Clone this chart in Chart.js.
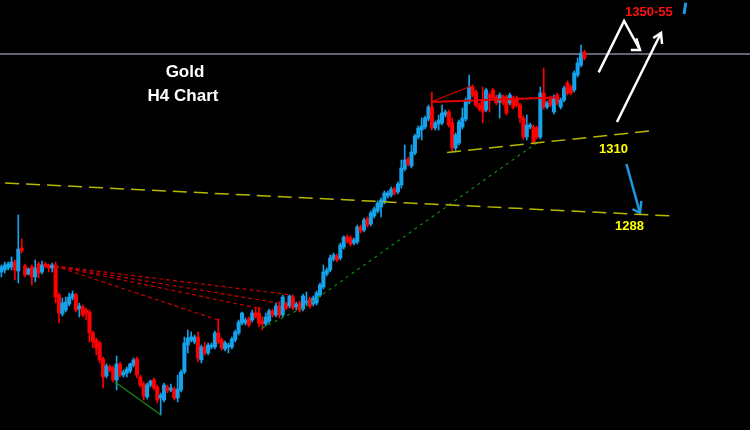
<!DOCTYPE html>
<html>
<head>
<meta charset="utf-8">
<script src="https://cdn.jsdelivr.net/npm/chart.js@4.4.1/dist/chart.umd.min.js"></script>
<style>
  html, body { margin: 0; padding: 0; background: #000; }
  #wrap { width: 750px; height: 430px; }
</style>
</head>
<body>
<div id="wrap"><canvas id="goldChart" width="750" height="430"></canvas></div>
<script>
// Gold H4 candles (oldest first)
const openPrices = [
  1275, 1275.5, 1276, 1276.25, 1277.5, 1275.25, 1281, 1276.5, 1274.5, 1276.25,
  1273.75, 1277, 1275, 1277, 1276.75, 1276, 1276.75, 1269.25, 1264.5, 1265.5,
  1267, 1268.5, 1269.25, 1265.75, 1266.25, 1265.5, 1265, 1259.75, 1258, 1257.25,
  1253.25, 1249, 1251.25, 1251, 1248, 1252, 1249.25, 1249.75, 1250.25, 1251.75,
  1253.25, 1248.75, 1247, 1243.75, 1246.75, 1248, 1246.25, 1243.5, 1243, 1246.25,
  1245.5, 1245.75, 1243.5, 1245.5, 1250, 1256.75, 1258, 1257.5, 1258.75, 1253,
  1256.25, 1254.75, 1256.25, 1256.25, 1259.75, 1258, 1255.75, 1256.25, 1256.25, 1258,
  1259.75, 1262.25, 1262.25, 1263.25, 1263, 1264.75, 1264.75, 1262.75, 1262, 1262.75,
  1265.25, 1264.25, 1266.5, 1264.25, 1267, 1266.5, 1268.75, 1266.25, 1267.25, 1265.75,
  1267.25, 1268.25, 1267, 1267.25, 1269.25, 1271.25, 1274.5, 1275.5, 1278.25, 1279,
  1278.5, 1281.25, 1283.75, 1283.5, 1282.25, 1282.5, 1286.25, 1285.5, 1288.25, 1287,
  1289, 1290.25, 1291.25, 1292.5, 1294, 1294.25, 1295.75, 1295, 1296.75, 1300.75,
  1303.25, 1301.5, 1304.75, 1308.75, 1310.5, 1311.25, 1313.25, 1316.25, 1311, 1312,
  1312.25, 1314.25, 1315, 1312.25, 1306, 1307.25, 1311.25, 1313.25, 1317.5, 1321.25,
  1320, 1316.75, 1318, 1315.5, 1319.25, 1320.5, 1318.75, 1317.5, 1318.75, 1318.75,
  1317.25, 1318.5, 1318.5, 1316.75, 1313.5, 1308.75, 1311.25, 1311.25, 1311, 1308.75,
  1319.75, 1316.25, 1318.5, 1315, 1319.25, 1316.25, 1318, 1322.25, 1321.25, 1320.5,
  1324.25, 1326.75, 1330
];
const highPrices = [
  1276.75, 1277.5, 1277.5, 1278.75, 1278, 1289.25, 1283.25, 1277, 1276, 1276.75,
  1278, 1277.5, 1277.75, 1277.5, 1277, 1277.25, 1277.5, 1269.75, 1268.5, 1268.75,
  1269.75, 1270.25, 1269.75, 1267.25, 1266.75, 1266, 1265.5, 1260.25, 1258.5, 1257.75,
  1253.75, 1252, 1251.75, 1251.5, 1254, 1252.5, 1250.5, 1251.25, 1252.25, 1253.5,
  1253.75, 1249.25, 1247.5, 1247.25, 1248, 1248.5, 1246.75, 1244.75, 1247.25, 1246.75,
  1247, 1246.25, 1249.25, 1250.5, 1258.75, 1260.5, 1260, 1259.25, 1260, 1256.75,
  1257.5, 1257.25, 1257.25, 1260.25, 1263.25, 1258.5, 1257.75, 1257.25, 1258.75, 1260.5,
  1263, 1265, 1263.5, 1263.75, 1265.5, 1266.25, 1266.25, 1263.75, 1264.75, 1265.75,
  1265.75, 1267.25, 1267.5, 1269.25, 1267.5, 1269.25, 1269.25, 1267.5, 1267.75, 1269.5,
  1270, 1268.75, 1269, 1270.25, 1272.25, 1276.75, 1276, 1279.25, 1279.75, 1279.5,
  1282.25, 1284, 1284.25, 1284, 1283.5, 1286.75, 1286.75, 1288.5, 1288.75, 1290.25,
  1291.25, 1292.75, 1293.5, 1295.25, 1295.25, 1296.25, 1296.25, 1297.5, 1303, 1306.75,
  1303.75, 1306.75, 1309.5, 1311.5, 1313.5, 1314, 1316.75, 1320, 1312.75, 1314.25,
  1316.75, 1315.5, 1315.5, 1313.5, 1309.75, 1313, 1316, 1318.5, 1324.25, 1321.75,
  1320.5, 1317.25, 1321.25, 1321, 1319.75, 1321, 1319.25, 1319.75, 1319.25, 1319.25,
  1319.75, 1319, 1319, 1317.25, 1314, 1314.25, 1312.25, 1311.75, 1311.5, 1321.25,
  1326, 1317.75, 1319, 1319.25, 1319.75, 1318.5, 1321.5, 1322.75, 1321.75, 1325.25,
  1328.5, 1331.75, 1330.5
];
const lowPrices = [
  1273.75, 1274.75, 1275.5, 1275.5, 1273, 1272.25, 1279.75, 1273.75, 1274.25, 1271.75,
  1272.5, 1273.5, 1274.5, 1276, 1275, 1275, 1267.25, 1262.25, 1264, 1265,
  1266.5, 1268, 1265, 1263.75, 1263.75, 1263, 1257.5, 1256, 1254.25, 1252.25,
  1246, 1248.5, 1250, 1247.5, 1245.5, 1248.75, 1248.75, 1248.75, 1249.75, 1251.25,
  1248.5, 1246.25, 1243, 1243.25, 1246.25, 1245.5, 1242.25, 1239.25, 1242.5, 1244.75,
  1245, 1243, 1242.5, 1245, 1249.5, 1254.75, 1257.5, 1257, 1252.5, 1252.25,
  1254.25, 1254.25, 1255.75, 1255.75, 1257, 1255.5, 1255.25, 1254.75, 1255.75, 1257.5,
  1259.25, 1261.75, 1261.75, 1261.25, 1262.5, 1263.5, 1261.25, 1260.5, 1261.5, 1262.25,
  1263.75, 1263.75, 1263.5, 1263.75, 1265.5, 1266, 1265.5, 1265.5, 1265, 1265.25,
  1266.75, 1266, 1266.5, 1266.75, 1268.75, 1270.75, 1274, 1275, 1277.75, 1277.5,
  1278, 1280.75, 1282.25, 1281.5, 1281.75, 1282, 1284.75, 1285, 1286.25, 1286.5,
  1288.5, 1289.75, 1288.75, 1292, 1293.5, 1293.75, 1294.25, 1294.5, 1296, 1300.25,
  1301.5, 1301, 1304.25, 1308.25, 1308, 1310.75, 1312.75, 1310.5, 1310.5, 1310.5,
  1311.75, 1313.75, 1311.25, 1305, 1305, 1306.75, 1310.75, 1312.75, 1317, 1318.75,
  1316.25, 1315.25, 1312.25, 1315, 1315, 1318, 1316.75, 1313.5, 1316.75, 1314.25,
  1316.75, 1315.75, 1316.25, 1312.25, 1308.25, 1308, 1310.75, 1307, 1308.25, 1308.25,
  1315.75, 1315.75, 1316.25, 1314.5, 1316.75, 1315.75, 1317.5, 1319.25, 1319.25, 1320,
  1323.75, 1326.25, 1328
];
const closePrices = [
  1276.25, 1276.75, 1277, 1277.5, 1275.5, 1280.75, 1280.25, 1274.25, 1275.75, 1273.75,
  1276, 1274.75, 1276.75, 1276.5, 1276, 1276.75, 1268.75, 1264.75, 1267.25, 1267.5,
  1268.75, 1269.5, 1265.5, 1266.5, 1264.25, 1264.75, 1259.75, 1257.5, 1256, 1253,
  1248.75, 1251.5, 1250.5, 1248, 1252, 1249.25, 1250, 1250.75, 1252, 1253,
  1249.25, 1246.75, 1244, 1246.75, 1247.75, 1246, 1243, 1244.25, 1246.75, 1245.25,
  1246, 1243.5, 1245.75, 1250, 1257.25, 1258.5, 1258.75, 1258.75, 1253.5, 1256.25,
  1254.75, 1256.75, 1256.75, 1259.75, 1257.5, 1256, 1257.25, 1256.75, 1258.25, 1260,
  1262.5, 1264.75, 1263, 1261.75, 1264.75, 1263.75, 1262.25, 1262, 1263.75, 1265.25,
  1264.25, 1266.5, 1264.25, 1268.75, 1266, 1269, 1266, 1267, 1265.5, 1269,
  1267.75, 1266.5, 1268.5, 1269.75, 1271.75, 1275, 1275.5, 1278.5, 1279.25, 1278,
  1281.75, 1283.75, 1282.75, 1282, 1283, 1286.25, 1285.25, 1288, 1286.75, 1289.75,
  1290.75, 1292.25, 1293, 1294.75, 1294.75, 1295.75, 1294.75, 1297, 1301, 1303,
  1302, 1305, 1309, 1311, 1311.5, 1313.5, 1316.25, 1311, 1312.25, 1313,
  1314.75, 1315, 1311.75, 1306, 1309.25, 1312.5, 1313.5, 1318, 1321.25, 1319.25,
  1316.75, 1315.75, 1315, 1320.5, 1318.5, 1318.5, 1317.25, 1319.25, 1317.25, 1314.75,
  1319.25, 1316.25, 1316.75, 1313.5, 1308.75, 1311.75, 1311.75, 1307.5, 1308.75, 1319.75,
  1316.25, 1317.25, 1316.75, 1318.75, 1317.25, 1318, 1321, 1319.75, 1319.75, 1324.75,
  1327.25, 1329.75, 1328.5
];

// drawn objects, points as [candle index, price]
const resistanceLine = [[-1, 1329.5], [222, 1329.5]];
const supportLong = [[1.1, 1297.25], [197.8, 1289]];
const supportShort = [[131.5, 1304.9], [192.8, 1310.4]];
const fanLines = [
  [[15.8, 1276.5], [85.7, 1269.25]],
  [[15.8, 1276.5], [81.6, 1267.25]],
  [[15.8, 1276.5], [76.9, 1265.75]],
  [[15.8, 1276.5], [63.9, 1263]]
];
const riseTrend = [[76.9, 1261], [89.9, 1266.5], [158.3, 1307.5]];
const dropTrend = [[33.5, 1247.5], [47.1, 1239.25]];
const triangleTop = [[126.7, 1317.5], [139.4, 1321.75]];
const rangeLine = [[126.7, 1317.5], [163.6, 1318.6]];
const pathUpDown = [[176.2, 1324.9], [183.7, 1337.75], [188.4, 1330.5]];
const pathUpDownHead = [[187.3, 1333.4], [188.4, 1330.5], [185.7, 1330.5]];
const pathUp = [[181.6, 1312.5], [194.6, 1334.75]];
const pathUpHead = [[192.3, 1333.5], [194.6, 1334.75], [194.9, 1332]];
const pathDown = [[184.4, 1302], [188.4, 1289.75]];
const pathDownHead = [[186.2, 1290.75], [188.4, 1289.75], [188.8, 1292.75]];
const markerArrow = [[201.4, 1339.5], [201.9, 1342.3]];

const titleLines = ['Gold', 'H4 Chart'];
const targetLabel = '1350-55';
const levelLabels = ['1310', '1288'];

const UP = '#16a2ea';
const DOWN = '#ff0000';
const candleColor = ctx => {
  const i = ctx.dataIndex;
  return closePrices[i] >= openPrices[i] ? UP : DOWN;
};

const wicks = highPrices.map((h, i) => ({ x: i, y: [lowPrices[i], h] }));
const bodies = openPrices.map((o, i) => ({ x: i, y: [o, closePrices[i]] }));

const line = (pts, color, width, dash, order) => ({
  type: 'line',
  data: pts.map(p => ({ x: p[0], y: p[1] })),
  borderColor: color,
  borderWidth: width,
  borderDash: dash || [],
  pointRadius: 0,
  fill: false,
  tension: 0,
  order: order === undefined ? 0 : order
});

const datasets = [
  line(resistanceLine, '#62666e', 2, null, 5),
  { type: 'bar', data: wicks, backgroundColor: candleColor, barThickness: 1, grouped: false, order: 3 },
  { type: 'bar', data: bodies, backgroundColor: candleColor, barThickness: 3.4, minBarLength: 1, grouped: false, order: 2 },
  line(supportLong, '#b8b800', 1.5, [14, 7]),
  line(supportShort, '#b8b800', 1.5, [14, 7]),
  ...fanLines.map(f => line(f, '#c80000', 1.2, [4, 3])),
  line(riseTrend, '#0c8c0c', 1.2, [3, 4]),
  line(dropTrend, '#1a8a1a', 1.2),
  line(triangleTop, '#d80000', 1.2),
  line(rangeLine, '#e80000', 2),
  line(pathUpDown, '#ffffff', 2.5),
  line(pathUpDownHead, '#ffffff', 2.5),
  line(pathUp, '#ffffff', 2.5),
  line(pathUpHead, '#ffffff', 2.5),
  line(pathDown, '#1a9ae0', 2.5),
  line(pathDownHead, '#1a9ae0', 2.5),
  line(markerArrow, '#1a9ae0', 3)
];

const textPlugin = {
  id: 'chartText',
  afterDatasetsDraw(chart) {
    const ctx = chart.ctx;
    ctx.save();
    ctx.font = 'bold 17px "Liberation Sans", Arial, sans-serif';
    ctx.fillStyle = '#ffffff';
    ctx.textAlign = 'center';
    ctx.fillText(titleLines[0], 185, 77);
    ctx.fillText(titleLines[1], 183, 101);
    ctx.font = 'bold 13px "Liberation Sans", Arial, sans-serif';
    ctx.textAlign = 'left';
    ctx.fillStyle = '#ff1010';
    ctx.fillText(targetLabel, 625, 16);
    ctx.fillStyle = '#ffff00';
    ctx.fillText(levelLabels[0], 599, 153);
    ctx.fillText(levelLabels[1], 615, 230);
    ctx.restore();
  }
};

new Chart(document.getElementById('goldChart').getContext('2d'), {
  type: 'bar',
  data: { datasets },
  options: {
    responsive: false,
    animation: false,
    events: [],
    layout: { padding: 0 },
    plugins: { legend: { display: false }, tooltip: { enabled: false } },
    scales: {
      x: { type: 'linear', min: -0.4, max: 220.85, offset: false, display: false },
      y: { min: 1235.5, max: 1343, display: false }
    }
  },
  plugins: [textPlugin]
});
</script>
</body>
</html>
